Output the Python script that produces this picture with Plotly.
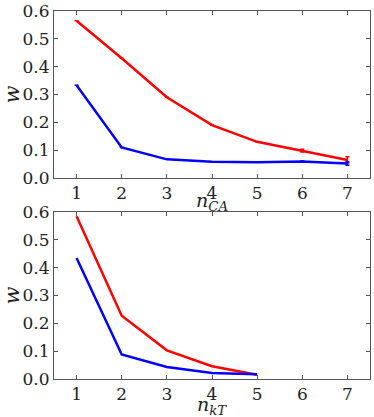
import plotly.graph_objects as go
from plotly.subplots import make_subplots

n_ca = [1, 2, 3, 4, 5, 6, 7]
red_ca = [0.565, 0.43, 0.29, 0.19, 0.13, 0.098, 0.065]
red_ca_err = [0, 0, 0, 0, 0, 0.005, 0.011]
blue_ca = [0.333, 0.11, 0.067, 0.058, 0.057, 0.059, 0.052]
blue_ca_err = [0, 0, 0, 0, 0, 0.002, 0.006]

n_kt = [1, 2, 3, 4, 5]
red_kt = [0.585, 0.227, 0.103, 0.046, 0.015]
blue_kt = [0.435, 0.088, 0.043, 0.022, 0.017]

font = "DejaVu Serif, serif"

fig = make_subplots(rows=2, cols=1, vertical_spacing=0.0924)

fig.add_trace(go.Scatter(x=n_ca, y=red_ca, mode="lines",
                         line=dict(color="#ff0000", width=2.5),
                         error_y=dict(type="data", array=red_ca_err, color="#ff0000",
                                      thickness=1.5, width=2)), row=1, col=1)
fig.add_trace(go.Scatter(x=n_ca, y=blue_ca, mode="lines",
                         line=dict(color="#0000ff", width=2.5),
                         error_y=dict(type="data", array=blue_ca_err, color="#0000ff",
                                      thickness=1.5, width=2)), row=1, col=1)
fig.add_trace(go.Scatter(x=n_kt, y=red_kt, mode="lines",
                         line=dict(color="#ff0000", width=2.5)), row=2, col=1)
fig.add_trace(go.Scatter(x=n_kt, y=blue_kt, mode="lines",
                         line=dict(color="#0000ff", width=2.5)), row=2, col=1)

axis_style = dict(showline=True, linecolor="#555555", linewidth=1, mirror="allticks",
                  ticks="inside", ticklen=4, tickcolor="#555555", showgrid=False,
                  zeroline=False, automargin=False,
                  tickfont=dict(family=font, size=17, color="#222222"))

fig.update_xaxes(range=[0.5, 7.5], dtick=1, **axis_style)
fig.update_yaxes(range=[0, 0.6], dtick=0.1, tickformat=".1f", **axis_style)

for r in (1, 2):
    fig.update_yaxes(title=dict(text="<i>w</i>", standoff=0,
                                font=dict(family=font, size=21, color="#222222")), row=r, col=1)

# x titles as annotations so they sit where the reference has them
title_font = dict(family=font, size=19, color="#222222")
fig.add_annotation(text="<i>n</i><sub><i>CA</i></sub>", xref="paper", yref="paper",
                   x=0.5, y=0.523, xanchor="center", yanchor="top",
                   showarrow=False, font=title_font)
fig.add_annotation(text="<i>n</i><sub><i>kT</i></sub>", xref="paper", yref="paper",
                   x=0.5, y=-0.032, xanchor="center", yanchor="top",
                   showarrow=False, font=title_font)

fig.update_layout(width=374, height=417, showlegend=False,
                  margin=dict(l=54, r=4, t=11, b=38),
                  plot_bgcolor="white", paper_bgcolor="white")

fig.write_html("out.html", config={"displayModeBar": False},
               post_script="document.body.style.margin='0';document.body.style.overflow='hidden';")
